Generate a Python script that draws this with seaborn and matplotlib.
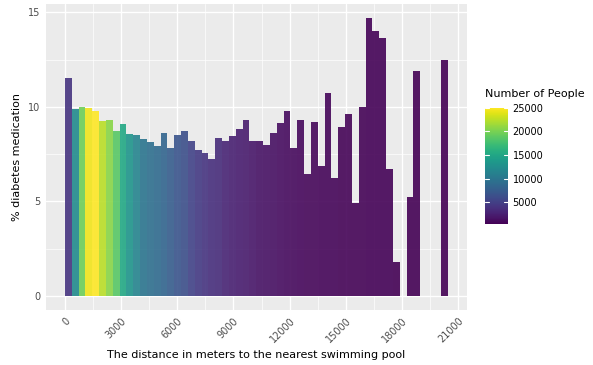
import numpy as np
import pandas as pd
import matplotlib
matplotlib.use("Agg")
import matplotlib.pyplot as plt
from matplotlib import colors as mcolors, cm
import seaborn as sns

nan = np.nan

# Width of each distance band (metres); the first band starts at 0 m
bin_width = 364.8

# Share of people on diabetes medication per distance band (%)
pct_medication = [
    11.50, 9.88, 9.97, 9.95, 9.77, 9.24, 9.31, 8.75, 9.08, 8.56,
    8.49, 8.28, 8.15, 7.94, 8.61, 7.85, 8.49, 8.75, 8.17, 7.71,
    7.57, 7.24, 8.35, 8.20, 8.45, 8.82, 9.28, 8.19, 8.19, 8.01,
    8.64, 9.17, 9.79, 7.83, 9.33, 6.44, 9.19, 6.85, 10.74, 6.22,
    8.94, 9.63, 4.91, 9.98, 14.70, 14.03, 13.63, 6.74, 1.81, nan,
    5.25, 11.92, nan, nan, nan, 12.48,
]

# Number of people living in each distance band
n_people = [
    4100, 12200, 19600, 24500, 25000, 22500, 20600, 18600, 15200, 13200,
    11500, 10000, 9300, 8800, 8300, 7550, 6800, 6300, 5300, 4600,
    4100, 3600, 3400, 2900, 2600, 2400, 2150, 1900, 1650, 1520,
    1400, 1280, 1160, 1030, 910, 860, 810, 790, 760, 720,
    700, 680, 640, 620, 600, 580, 560, 530, 480, nan,
    440, 460, nan, nan, nan, 420,
]

x_ticks = [0, 3000, 6000, 9000, 12000, 15000, 18000, 21000]
y_ticks = [0, 5, 10, 15]
legend_ticks = [5000, 10000, 15000, 20000, 25000]

pct = np.array(pct_medication, dtype=float)
cnt = np.array(n_people, dtype=float)
n_bins = len(pct)
edges = np.arange(n_bins + 1) * bin_width
centers = (edges[:-1] + edges[1:]) / 2

df = pd.DataFrame({"distance": centers, "pct": np.nan_to_num(pct, nan=0.0)})

sns.set_theme(style="darkgrid")
plt.rcParams["font.family"] = ["DejaVu Sans"]

fig = plt.figure(figsize=(5.93, 3.65), dpi=100)
ax = fig.add_axes([45.7 / 593, 1 - 310 / 365, (466.7 - 45.7) / 593, (310 - 4) / 365])
ax.set_facecolor("#EBEBEB")

sns.histplot(data=df, x="distance", weights="pct", bins=list(edges), ax=ax,
             stat="count", linewidth=0, alpha=0.9)

norm = mcolors.Normalize(vmin=np.nanmin(cnt), vmax=np.nanmax(cnt))
cmap = plt.get_cmap("viridis")
for patch, h, c in zip(ax.patches, pct, cnt):
    if np.isnan(h):
        patch.set_visible(False)
        continue
    patch.set_facecolor(cmap(norm(c)))
    patch.set_linewidth(0)
    patch.set_alpha(0.9)
    patch.set_antialiased(False)

# Expanded limits (5 % on each side of the data range)
x_lo, x_hi = 0.0, edges[-1]
xr = x_hi - x_lo
ax.set_xlim(x_lo - 0.05 * xr, x_hi + 0.05 * xr)
y_hi = np.nanmax(pct)
ax.set_ylim(-0.05 * y_hi, y_hi * 1.05)

ax.set_xticks(x_ticks)
ax.set_xticklabels([str(t) for t in x_ticks], rotation=45, ha="right",
                   rotation_mode="anchor")
ax.set_xticks(np.arange(1500, 22000, 3000), minor=True)
ax.set_yticks(y_ticks)
ax.set_yticks([2.5, 7.5, 12.5], minor=True)

ax.grid(which="major", color="white", linewidth=1.0)
ax.grid(which="minor", color="white", linewidth=0.5)
ax.set_axisbelow(True)
for s in ax.spines.values():
    s.set_visible(False)

ax.tick_params(axis="both", which="major", length=2.5, width=0.6, color="#333333",
               labelsize=7, labelcolor="#4D4D4D", pad=1.5)
ax.tick_params(axis="both", which="minor", length=0)

ax.set_xlabel("The distance in meters to the nearest swimming pool",
              fontsize=8, color="black", labelpad=4)
ax.set_ylabel("% diabetes medication", fontsize=8, color="black", labelpad=4)

# Colour bar for the number of people
cax = fig.add_axes([485 / 593, 1 - 224 / 365, 23.3 / 593, 116.3 / 365])
sm = cm.ScalarMappable(norm=norm, cmap=cmap)
cb = fig.colorbar(sm, cax=cax)
cb.outline.set_visible(False)
cb.set_ticks(legend_ticks)
cb.set_ticklabels([str(t) for t in legend_ticks])
cax.tick_params(length=0, labelsize=7, labelcolor="black", pad=3)
for v in legend_ticks:
    cax.axhline(v, xmin=0, xmax=0.18, color="white", linewidth=0.8)
    cax.axhline(v, xmin=0.82, xmax=1, color="white", linewidth=0.8)
fig.text(485 / 593, 1 - 94 / 365, "Number of People", fontsize=8,
         ha="left", va="center", color="black")

fig.savefig("out.png", dpi=100)
